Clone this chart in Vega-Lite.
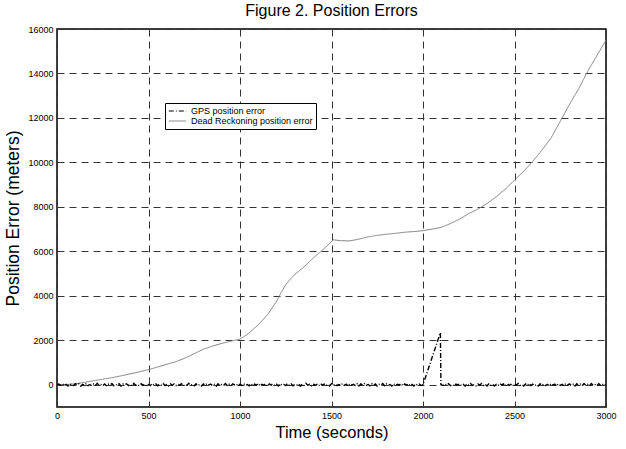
{
  "$schema": "https://vega.github.io/schema/vega-lite/v6.json",
  "autosize": {"type": "none"},
  "padding": {"left": 57, "top": 29, "right": 20, "bottom": 42},
  "width": 549,
  "height": 378,
  "background": "white",
  "title": {"text": "Figure 2. Position Errors", "fontSize": 16, "fontWeight": "normal", "font": "Liberation Sans", "color": "black", "offset": 6},
  "config": {
    "font": "Liberation Sans",
    "view": {"stroke": "black", "strokeWidth": 1.5},
    "axis": {
      "labelFont": "Liberation Sans", "labelFontSize": 9, "labelColor": "black",
      "titleFont": "Liberation Sans", "titleFontWeight": "normal", "titleColor": "black",
      "domain": false, "ticks": false, "labelPadding": 4, "format": "d",
      "grid": true, "gridColor": "#333333", "gridDash": [7, 5], "gridWidth": 1, "gridOpacity": 1
    }
  },
  "datasets": {
    "dr": [
      {"t": 0, "v": 0}, {"t": 50, "v": 5}, {"t": 100, "v": 40}, {"t": 150, "v": 110}, {"t": 200, "v": 180},
      {"t": 250, "v": 250}, {"t": 300, "v": 320}, {"t": 350, "v": 400}, {"t": 400, "v": 490}, {"t": 450, "v": 580},
      {"t": 500, "v": 680}, {"t": 550, "v": 800}, {"t": 600, "v": 920}, {"t": 650, "v": 1040}, {"t": 700, "v": 1200},
      {"t": 750, "v": 1400}, {"t": 800, "v": 1600}, {"t": 850, "v": 1740}, {"t": 900, "v": 1860}, {"t": 950, "v": 1960},
      {"t": 1000, "v": 2050}, {"t": 1050, "v": 2330}, {"t": 1100, "v": 2700}, {"t": 1150, "v": 3150}, {"t": 1200, "v": 3750},
      {"t": 1225, "v": 4150}, {"t": 1250, "v": 4500}, {"t": 1275, "v": 4750}, {"t": 1300, "v": 4960}, {"t": 1350, "v": 5300}, {"t": 1400, "v": 5700},
      {"t": 1450, "v": 6050}, {"t": 1500, "v": 6430}, {"t": 1510, "v": 6520}, {"t": 1550, "v": 6480}, {"t": 1600, "v": 6470},
      {"t": 1650, "v": 6550}, {"t": 1700, "v": 6650}, {"t": 1750, "v": 6720}, {"t": 1800, "v": 6770}, {"t": 1850, "v": 6810},
      {"t": 1900, "v": 6860}, {"t": 1950, "v": 6890}, {"t": 2000, "v": 6930}, {"t": 2050, "v": 7000}, {"t": 2100, "v": 7080},
      {"t": 2150, "v": 7250}, {"t": 2200, "v": 7450}, {"t": 2250, "v": 7700}, {"t": 2300, "v": 7900}, {"t": 2350, "v": 8150},
      {"t": 2400, "v": 8450}, {"t": 2450, "v": 8800}, {"t": 2500, "v": 9200}, {"t": 2550, "v": 9600}, {"t": 2600, "v": 10050},
      {"t": 2650, "v": 10550}, {"t": 2700, "v": 11100}, {"t": 2750, "v": 11850}, {"t": 2800, "v": 12600}, {"t": 2850, "v": 13300},
      {"t": 2900, "v": 14100}, {"t": 2950, "v": 14800}, {"t": 3000, "v": 15500}
    ],
    "gps": [
      {"t":0,"v":0},{"t":10,"v":35},{"t":20,"v":-20},{"t":30,"v":48},{"t":40,"v":-42},{"t":50,"v":15},{"t":60,"v":-55},{"t":70,"v":30},{"t":80,"v":18},{"t":90,"v":-38},
      {"t":100,"v":52},{"t":110,"v":-10},{"t":120,"v":44},{"t":130,"v":-60},{"t":140,"v":22},{"t":150,"v":-28},{"t":160,"v":57},{"t":170,"v":-33},{"t":180,"v":12},{"t":190,"v":-47},
      {"t":200,"v":40},{"t":210,"v":-18},{"t":220,"v":63},{"t":230,"v":-25},{"t":240,"v":8},{"t":250,"v":-52},{"t":260,"v":37},{"t":270,"v":-40},{"t":280,"v":26},{"t":290,"v":-14},
      {"t":300,"v":55},{"t":310,"v":-45},{"t":320,"v":19},{"t":330,"v":-30},{"t":340,"v":49},{"t":350,"v":-58},{"t":360,"v":33},{"t":370,"v":-6},{"t":380,"v":41},{"t":390,"v":-36},
      {"t":400,"v":24},{"t":410,"v":-50},{"t":420,"v":60},{"t":430,"v":-21},{"t":440,"v":11},{"t":450,"v":-44},{"t":460,"v":46},{"t":470,"v":-27},{"t":480,"v":31},{"t":490,"v":-62},
      {"t":500,"v":17},{"t":510,"v":-39},{"t":520,"v":53},{"t":530,"v":-12},{"t":540,"v":38},{"t":550,"v":-48},{"t":560,"v":28},{"t":570,"v":-16},{"t":580,"v":58},{"t":590,"v":-34},
      {"t":600,"v":9},{"t":610,"v":-56},{"t":620,"v":43},{"t":630,"v":-23},{"t":640,"v":36},{"t":650,"v":-41},{"t":660,"v":21},{"t":670,"v":-9},{"t":680,"v":50},{"t":690,"v":-53},
      {"t":700,"v":14},{"t":710,"v":-31},{"t":720,"v":62},{"t":730,"v":-19},{"t":740,"v":27},{"t":750,"v":-46},{"t":760,"v":45},{"t":770,"v":-37},{"t":780,"v":16},{"t":790,"v":-57},
      {"t":800,"v":39},{"t":810,"v":-24},{"t":820,"v":54},{"t":830,"v":-11},{"t":840,"v":32},{"t":850,"v":-43},{"t":860,"v":20},{"t":870,"v":-61},{"t":880,"v":47},{"t":890,"v":-29},
      {"t":900,"v":13},{"t":910,"v":-35},{"t":920,"v":59},{"t":930,"v":-17},{"t":940,"v":25},{"t":950,"v":-49},{"t":960,"v":42},{"t":970,"v":-7},{"t":980,"v":34},{"t":990,"v":-54},
      {"t":1000,"v":23},{"t":1010,"v":-32},{"t":1020,"v":56},{"t":1030,"v":-26},{"t":1040,"v":10},{"t":1050,"v":-45},{"t":1060,"v":48},{"t":1070,"v":-38},{"t":1080,"v":29},{"t":1090,"v":-15},
      {"t":1100,"v":61},{"t":1110,"v":-51},{"t":1120,"v":18},{"t":1130,"v":-22},{"t":1140,"v":44},{"t":1150,"v":-59},{"t":1160,"v":35},{"t":1170,"v":-13},{"t":1180,"v":40},{"t":1190,"v":-40},
      {"t":1200,"v":26},{"t":1210,"v":-55},{"t":1220,"v":52},{"t":1230,"v":-20},{"t":1240,"v":15},{"t":1250,"v":-36},{"t":1260,"v":57},{"t":1270,"v":-28},{"t":1280,"v":37},{"t":1290,"v":-47},
      {"t":1300,"v":12},{"t":1310,"v":-10},{"t":1320,"v":49},{"t":1330,"v":-60},{"t":1340,"v":30},{"t":1350,"v":-33},{"t":1360,"v":63},{"t":1370,"v":-18},{"t":1380,"v":22},{"t":1390,"v":-44},
      {"t":1400,"v":43},{"t":1410,"v":-25},{"t":1420,"v":17},{"t":1430,"v":-52},{"t":1440,"v":55},{"t":1450,"v":-14},{"t":1460,"v":33},{"t":1470,"v":-39},{"t":1480,"v":24},{"t":1490,"v":-58},
      {"t":1500,"v":46},{"t":1510,"v":-8},{"t":1520,"v":39},{"t":1530,"v":-42},{"t":1540,"v":11},{"t":1550,"v":-30},{"t":1560,"v":60},{"t":1570,"v":-23},{"t":1580,"v":28},{"t":1590,"v":-50},
      {"t":1600,"v":51},{"t":1610,"v":-16},{"t":1620,"v":19},{"t":1630,"v":-37},{"t":1640,"v":41},{"t":1650,"v":-56},{"t":1660,"v":36},{"t":1670,"v":-12},{"t":1680,"v":53},{"t":1690,"v":-27},
      {"t":1700,"v":14},{"t":1710,"v":-46},{"t":1720,"v":45},{"t":1730,"v":-34},{"t":1740,"v":31},{"t":1750,"v":-62},{"t":1760,"v":21},{"t":1770,"v":-19},{"t":1780,"v":58},{"t":1790,"v":-41},
      {"t":1800,"v":38},{"t":1810,"v":-24},{"t":1820,"v":9},{"t":1830,"v":-53},{"t":1840,"v":47},{"t":1850,"v":-31},{"t":1860,"v":26},{"t":1870,"v":-11},{"t":1880,"v":54},{"t":1890,"v":-48},
      {"t":1900,"v":34},{"t":1910,"v":-20},{"t":1920,"v":50},{"t":1930,"v":-43},{"t":1940,"v":16},{"t":1950,"v":-57},{"t":1960,"v":40},{"t":1970,"v":-15},{"t":1980,"v":29},{"t":1990,"v":-35},
      {"t":2000,"v":0},{"t":2095,"v":2340},{"t":2098,"v":0},
      {"t":2110,"v":-30},{"t":2120,"v":45},{"t":2130,"v":-18},{"t":2140,"v":52},{"t":2150,"v":-40},{"t":2160,"v":20},{"t":2170,"v":-55},{"t":2180,"v":33},{"t":2190,"v":-9},
      {"t":2200,"v":47},{"t":2210,"v":-36},{"t":2220,"v":14},{"t":2230,"v":-60},{"t":2240,"v":41},{"t":2250,"v":-22},{"t":2260,"v":57},{"t":2270,"v":-29},{"t":2280,"v":11},{"t":2290,"v":-48},
      {"t":2300,"v":38},{"t":2310,"v":-14},{"t":2320,"v":60},{"t":2330,"v":-33},{"t":2340,"v":25},{"t":2350,"v":-51},{"t":2360,"v":44},{"t":2370,"v":-19},{"t":2380,"v":30},{"t":2390,"v":-58},
      {"t":2400,"v":17},{"t":2410,"v":-42},{"t":2420,"v":55},{"t":2430,"v":-8},{"t":2440,"v":36},{"t":2450,"v":-46},{"t":2460,"v":49},{"t":2470,"v":-26},{"t":2480,"v":22},{"t":2490,"v":-61},
      {"t":2500,"v":43},{"t":2510,"v":-15},{"t":2520,"v":58},{"t":2530,"v":-37},{"t":2540,"v":12},{"t":2550,"v":-53},{"t":2560,"v":34},{"t":2570,"v":-21},{"t":2580,"v":62},{"t":2590,"v":-31},
      {"t":2600,"v":27},{"t":2610,"v":-44},{"t":2620,"v":10},{"t":2630,"v":-56},{"t":2640,"v":46},{"t":2650,"v":-24},{"t":2660,"v":39},{"t":2670,"v":-39},{"t":2680,"v":18},{"t":2690,"v":-50},
      {"t":2700,"v":53},{"t":2710,"v":-12},{"t":2720,"v":31},{"t":2730,"v":-59},{"t":2740,"v":42},{"t":2750,"v":-27},{"t":2760,"v":15},{"t":2770,"v":-45},{"t":2780,"v":56},{"t":2790,"v":-17},
      {"t":2800,"v":37},{"t":2810,"v":-34},{"t":2820,"v":23},{"t":2830,"v":-62},{"t":2840,"v":48},{"t":2850,"v":-10},{"t":2860,"v":29},{"t":2870,"v":-49},{"t":2880,"v":51},{"t":2890,"v":-23},
      {"t":2900,"v":19},{"t":2910,"v":-41},{"t":2920,"v":59},{"t":2930,"v":-32},{"t":2940,"v":13},{"t":2950,"v":-54},{"t":2960,"v":44},{"t":2970,"v":-16},{"t":2980,"v":35},{"t":2990,"v":-47},
      {"t":3000,"v":20}
    ]
  },
  "encoding": {
    "x": {"field": "t", "type": "quantitative", "scale": {"domain": [0, 3000], "nice": false, "zero": false},
          "axis": {"title": "Time (seconds)", "titleFontSize": 16.5, "values": [0, 500, 1000, 1500, 2000, 2500, 3000], "titlePadding": 4, "labelFlush": false}},
    "y": {"field": "v", "type": "quantitative", "scale": {"domain": [-1000, 16000], "nice": false, "zero": false},
          "axis": {"title": "Position Error (meters)", "titleFontSize": 17.5, "values": [0, 2000, 4000, 6000, 8000, 10000, 12000, 14000, 16000], "titlePadding": 5, "labelFlush": false}},
    "color": {"field": "series", "type": "nominal",
              "scale": {"domain": ["GPS position error", "Dead Reckoning position error"], "range": ["black", "#808080"]},
              "legend": {"title": null, "orient": "none", "legendX": 108, "legendY": 74, "fillColor": "white", "strokeColor": "black",
                         "padding": 3, "labelFontSize": 9, "labelFont": "Liberation Sans", "labelColor": "black", "symbolType": "stroke",
                         "symbolSize": 300, "symbolStrokeWidth": 1, "rowPadding": 0, "labelOffset": 4, "clipHeight": 10}},
    "strokeDash": {"field": "series", "type": "nominal",
                   "scale": {"domain": ["GPS position error", "Dead Reckoning position error"], "range": [[5, 2, 1, 2], [1, 0]]},
                   "legend": {"title": null, "orient": "none", "legendX": 108, "legendY": 74}}
  },
  "layer": [
    {"data": {"name": "dr"}, "transform": [{"calculate": "'Dead Reckoning position error'", "as": "series"}],
     "mark": {"type": "line", "strokeWidth": 1, "clip": true}},
    {"data": {"name": "gps"}, "transform": [{"calculate": "'GPS position error'", "as": "series"}],
     "mark": {"type": "line", "strokeWidth": 1.4, "clip": true}}
  ]
}
